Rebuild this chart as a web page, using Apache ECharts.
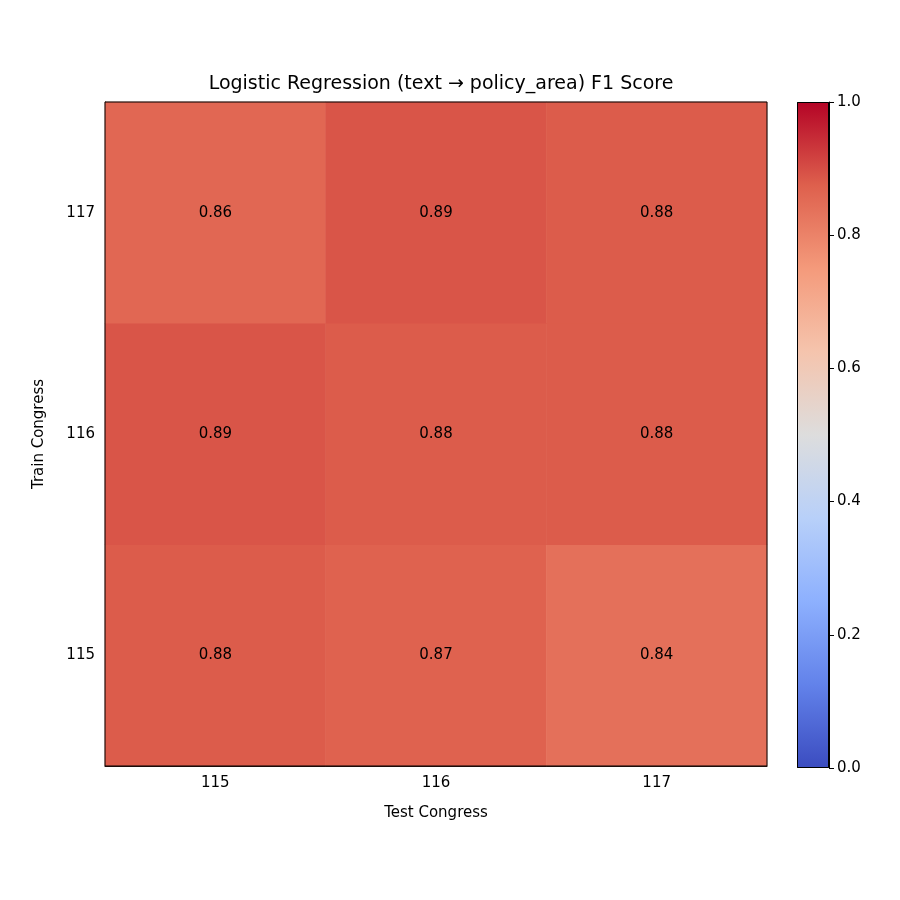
<!DOCTYPE html>
<html><head><meta charset="utf-8">
<script src="https://cdn.jsdelivr.net/npm/echarts@6/dist/echarts.min.js"></script>
<style>html,body{margin:0;padding:0;background:#fff}#c{width:900px;height:900px}</style>
</head><body><div id="c"></div>
<script>
const testCongress = ['115','116','117'];
const trainCongress = ['115','116','117'];
// rows: train 115,116,117 ; cols: test 115,116,117
const f1Values = [
  [0.88, 0.87, 0.84],
  [0.89, 0.88, 0.88],
  [0.86, 0.89, 0.88]
];
const colorbarTicks = [0, 0.2, 0.4, 0.6, 0.8, 1.0];
const coolwarm = ['#3b4cc0','#6282ea','#8db0fe','#b8d0f9','#dddddd','#f5c4ad','#f49a7b','#de604d','#b40426'];

const data = [];
f1Values.forEach((row, r) => row.forEach((v, c) => data.push([c, r, v])));

const chart = echarts.init(document.getElementById('c'));
const font = 'DejaVu Sans';
chart.setOption({
  backgroundColor: '#fff',
  textStyle: {fontFamily: font},
  title: {text: 'Logistic Regression (text \u2192 policy_area) F1 Score', left: 436, top: 70, textAlign: 'center',
    textStyle: {fontFamily: font, fontSize: 19, fontWeight: 'normal', color: '#000'}},
  grid: [
    {left: 105, top: 102, width: 662, height: 664},
    {left: 797, top: 102, width: 32, height: 666}
  ],
  xAxis: [
    {type: 'category', data: testCongress, gridIndex: 0, name: 'Test Congress', nameLocation: 'middle', nameGap: 40,
      nameTextStyle: {fontSize: 15, color: '#000'},
      axisLine: {show: true, lineStyle: {color: '#000'}}, axisTick: {alignWithLabel: true, lineStyle: {color: '#000'}, length: 5},
      axisLabel: {fontSize: 15, color: '#000', margin: 10}, splitLine: {show: false}},
    {type: 'category', data: [''], gridIndex: 1, show: false}
  ],
  yAxis: [
    {type: 'category', data: trainCongress, gridIndex: 0, name: 'Train Congress', nameLocation: 'middle', nameGap: 58,
      nameTextStyle: {fontSize: 15, color: '#000'},
      axisLine: {show: true, lineStyle: {color: '#000'}}, axisTick: {alignWithLabel: true, lineStyle: {color: '#000'}, length: 5},
      axisLabel: {fontSize: 15, color: '#000', margin: 10}, splitLine: {show: false}},
    {type: 'value', gridIndex: 1, min: 0, max: 1, interval: 0.2, position: 'right',
      axisLine: {show: true, lineStyle: {color: '#000'}}, axisTick: {show: true, length: 5, lineStyle: {color: '#000'}},
      axisLabel: {fontSize: 15, color: '#000', formatter: v => v.toFixed(1)}, splitLine: {show: false}}
  ],
  visualMap: {show: false, min: 0, max: 1, seriesIndex: 0, inRange: {color: coolwarm}},
  series: [
    {type: 'heatmap', xAxisIndex: 0, yAxisIndex: 0, data: data,
      label: {show: true, color: '#000', fontSize: 15, formatter: p => p.value[2].toFixed(2)},
      itemStyle: {borderWidth: 0}},
    {type: 'bar', xAxisIndex: 1, yAxisIndex: 1, data: [1], barWidth: '100%', silent: true,
      itemStyle: {borderColor: '#000', borderWidth: 1,
        color: new echarts.graphic.LinearGradient(0, 1, 0, 0, coolwarm.map((c, i) => ({offset: i / (coolwarm.length - 1), color: c})))}}
  ],
  graphic: [{type: 'rect', shape: {x: 105, y: 102, width: 662, height: 664}, style: {fill: 'none', stroke: '#000', lineWidth: 1}, z: 100}]
});
</script></body></html>
